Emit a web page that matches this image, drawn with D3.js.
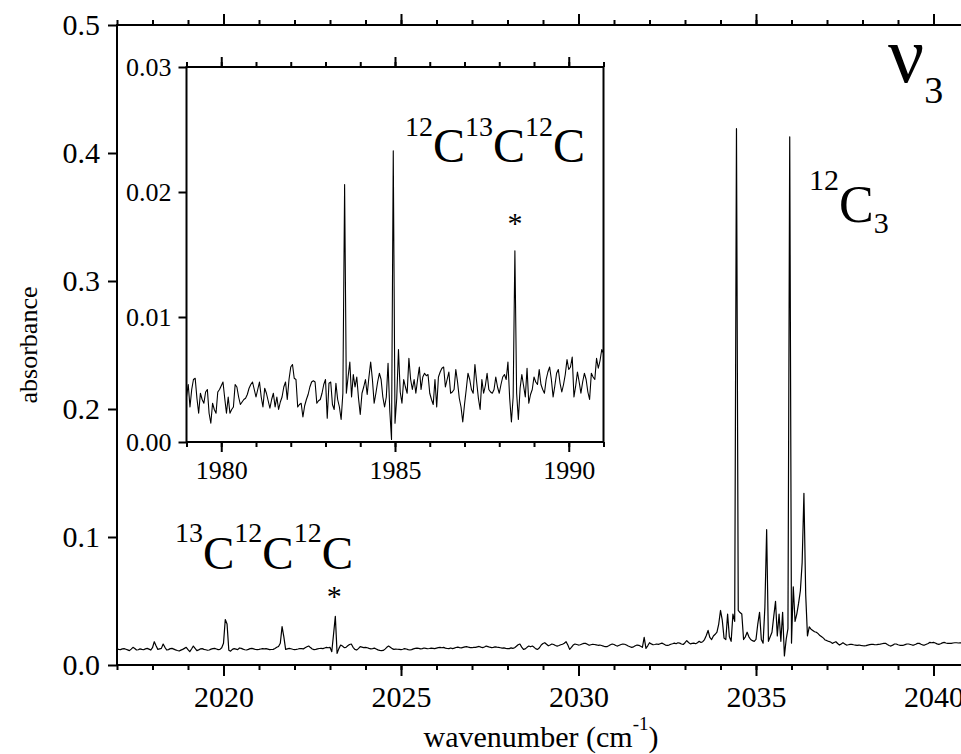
<!DOCTYPE html>
<html>
<head>
<meta charset="utf-8">
<script src="https://cdn.jsdelivr.net/npm/d3@7"></script>
<style>
  html, body { margin: 0; padding: 0; background: #fff; }
  svg { display: block; }
  text { font-family: "Liberation Serif", "Times New Roman", serif; fill: #000; }
</style>
</head>
<body>
<svg id="chart" width="961" height="754"></svg>
<script>
// ---- spectrum data (absorbance in milli-units, uniform wavenumber grid) ----
const mainStart = 2017;   // cm-1
const mainStep = 0.05;    // cm-1
const mainAbsorbanceMilli = [
  12.5,12.2,12.0,12.6,12.8,12.3,11.8,11.2,12.4,13.8,12.9,11.7,11.9,12.6,12.2,11.9,12.6,13.0,12.4,11.7,
  13.5,18.2,15.0,12.2,12.6,13.0,16.4,13.8,11.7,12.0,12.8,13.0,12.4,11.8,11.3,10.9,11.6,12.2,13.0,13.8,
  12.0,10.4,12.5,14.8,13.0,11.2,11.8,12.6,12.8,12.2,11.9,11.5,11.7,12.4,12.8,13.0,12.5,12.0,12.2,13.5,
  17.0,35.5,32.0,11.5,10.8,12.2,12.8,12.4,12.0,13.3,13.0,12.4,11.9,11.7,12.2,12.8,13.0,12.6,12.1,12.0,
  12.2,12.5,12.8,12.6,12.8,12.4,12.0,12.1,12.2,12.9,13.8,14.5,17.0,30.0,22.0,12.2,12.6,13.0,12.7,12.3,
  12.0,12.2,12.5,12.9,12.8,12.6,13.4,14.2,14.8,13.6,12.5,12.0,12.2,12.6,12.9,13.0,12.8,13.3,13.8,13.5,
  13.8,10.4,24.0,38.0,9.1,12.8,15.6,14.8,13.6,13.8,15.0,16.0,16.4,13.8,12.2,11.7,12.8,14.3,14.0,13.6,
  13.8,13.5,13.0,12.6,12.8,13.2,12.5,11.8,11.4,11.2,11.4,12.4,13.8,14.8,13.9,12.8,12.2,12.4,12.3,12.2,
  12.0,12.3,12.8,12.5,12.0,11.7,12.0,12.6,13.0,13.2,13.0,12.6,12.8,13.3,13.0,12.7,12.9,13.2,13.0,12.8,
  13.2,13.6,13.8,13.5,13.8,13.2,12.9,12.8,13.3,12.8,13.2,13.7,14.0,13.6,13.4,13.8,14.2,14.3,13.9,13.6,
  13.5,13.8,13.8,14.2,14.5,14.0,13.6,14.1,14.8,14.4,13.9,13.6,13.8,14.2,13.9,13.8,13.5,13.2,13.4,13.0,
  12.8,12.8,13.4,13.0,13.5,14.6,15.8,16.4,14.0,12.2,12.6,13.8,14.8,14.2,14.8,13.8,12.6,12.2,13.5,15.6,
  16.8,17.4,16.2,15.0,15.6,16.4,16.0,15.2,14.8,15.2,15.8,16.2,17.0,18.2,15.6,12.2,13.8,15.6,16.4,16.0,
  15.6,15.8,16.4,16.9,16.9,16.2,15.4,15.8,16.2,16.0,15.7,15.4,15.6,15.2,14.8,14.3,14.3,15.0,15.8,16.4,
  16.0,15.2,14.8,15.4,16.0,16.4,16.2,15.6,14.8,14.3,13.8,14.2,15.0,15.6,15.4,14.6,13.8,21.6,13.0,15.0,
  17.4,16.5,15.8,16.0,16.4,16.1,16.6,17.1,16.4,15.6,15.4,15.6,16.2,16.6,17.1,16.6,17.4,17.1,16.4,16.0,
  17.4,19.0,17.6,16.5,16.9,17.1,16.6,17.4,18.5,17.6,18.2,19.9,23.0,27.0,21.5,19.9,22.7,24.0,25.6,32.0,
  42.6,35.0,21.0,19.9,39.8,22.0,18.5,39.8,34.1,419.0,42.6,41.0,39.8,19.9,22.0,25.6,22.0,19.9,19.0,18.5,
  20.0,32.0,41.2,19.9,17.1,45.0,105.7,18.5,22.0,25.6,38.0,49.7,22.7,39.8,18.5,41.2,7.1,20.0,28.4,412.6,
  17.1,61.1,34.1,40.0,48.3,58.0,80.0,134.1,55.0,22.7,29.8,28.0,27.0,26.0,25.6,24.5,23.0,22.0,21.0,19.5,
  19.0,18.4,18.0,16.9,17.6,18.2,16.8,15.6,16.5,17.4,16.5,15.6,15.8,16.1,16.1,15.8,15.6,15.4,15.6,15.3,
  15.1,15.0,15.1,15.5,15.9,16.1,16.1,15.8,15.9,16.1,16.3,16.6,16.9,16.9,16.0,15.2,14.8,15.5,16.4,16.4,
  15.8,15.4,15.4,15.4,15.9,16.4,16.4,16.0,15.6,15.6,16.2,16.9,16.9,16.2,15.6,15.6,16.2,16.8,17.7,17.4,
  17.7,17.2,16.5,16.1,16.6,17.3,17.7,17.2,16.9,16.9,16.9,17.2,17.4,17.4,17.2,17.4,17.2,17.0,17.2,17.4,
  17.2
];

const insetStart = 1979;  // cm-1
const insetStep = 0.05;   // cm-1
const insetAbsorbanceMilli = [
  3.6,4.6,2.8,4.2,5.0,5.1,3.5,2.3,3.9,3.4,3.1,4.0,4.2,2.3,1.5,3.1,2.6,2.3,4.0,4.2,
  4.5,4.8,3.5,2.3,3.6,2.3,2.6,2.8,4.6,4.4,3.6,3.0,3.2,3.4,3.5,3.8,4.3,4.6,4.8,4.2,
  3.6,4.2,4.8,3.6,2.8,4.3,3.9,3.3,2.7,3.4,3.9,2.8,3.6,2.6,3.2,3.6,4.4,4.8,3.4,5.0,
  6.0,6.2,5.1,5.0,2.8,3.0,3.1,2.0,2.9,3.4,3.8,4.4,4.8,4.9,4.8,3.1,3.3,3.4,3.9,4.6,
  5.0,1.9,4.7,4.8,3.0,2.6,4.7,3.4,2.8,1.8,3.9,20.6,3.9,5.2,6.4,3.6,5.4,4.4,5.2,3.5,
  2.2,3.9,4.4,5.0,3.8,5.2,6.4,5.0,3.1,3.9,4.8,5.5,5.0,3.6,2.8,3.6,6.3,2.5,0.2,23.3,
  1.5,3.5,7.4,4.0,3.1,5.0,4.4,3.9,6.7,5.0,4.2,5.0,3.9,5.0,6.0,4.2,5.2,5.5,5.3,5.4,
  3.9,3.4,3.0,5.0,2.8,5.2,5.6,5.9,6.0,4.4,5.0,5.6,3.9,4.0,4.2,5.8,4.8,3.5,2.8,1.6,
  3.0,4.2,5.5,5.0,4.2,3.9,6.2,4.8,3.5,2.6,5.0,3.9,4.5,5.5,4.2,4.0,3.9,4.2,5.2,4.4,
  3.9,4.6,5.2,5.4,5.0,6.4,3.5,1.6,3.6,15.3,3.9,1.8,4.3,5.4,4.5,3.6,5.9,3.1,3.8,4.2,
  5.2,4.8,4.6,5.8,4.6,4.2,3.9,5.0,5.6,6.0,5.0,3.6,4.5,5.5,5.8,4.7,4.0,4.6,5.4,6.6,
  5.8,6.0,6.8,3.6,4.5,5.6,4.8,3.9,4.8,5.5,5.0,4.0,3.4,5.5,5.2,5.0,6.7,5.9,6.5,7.4,
  7.1
];

// axis ranges and tick labels
const mainXDomain = [2017, 2041];
const mainYDomain = [0, 0.5];
const insetXDomain = [1979, 1991];
const insetYDomain = [0, 0.03];
const mainXTicks = [2020, 2025, 2030, 2035, 2040];
const mainYTicks = [0, 0.1, 0.2, 0.3, 0.4, 0.5];
const insetXTicks = [1980, 1985, 1990];
const insetYTicks = [0, 0.01, 0.02, 0.03];

// peaks marked with an asterisk (cm-1, absorbance at the peak top)
const starredMain = { w: 2023.15, a: 0.038 };
const starredInset = { w: 1988.45, a: 0.0153 };

// ---- layout ----
const svg = d3.select("#chart");
const mainBox = { left: 117, right: 969, top: 25, bottom: 665 };
const insetBox = { left: 186.5, right: 603.5, top: 67, bottom: 442 };
const AXIS_W = 2;
const SERIF = '"Liberation Serif", "Times New Roman", serif';

const x = d3.scaleLinear().domain(mainXDomain).range([mainBox.left, mainBox.right]);
const y = d3.scaleLinear().domain(mainYDomain).range([mainBox.bottom, mainBox.top]);
const xi = d3.scaleLinear().domain(insetXDomain).range([insetBox.left, insetBox.right]);
const yi = d3.scaleLinear().domain(insetYDomain).range([insetBox.bottom, insetBox.top]);

const toPoints = (start, step, vals) => vals.map((v, i) => ({ w: start + i * step, a: v / 1000 }));
const mainPts = toPoints(mainStart, mainStep, mainAbsorbanceMilli);
const insetPts = toPoints(insetStart, insetStep, insetAbsorbanceMilli);

const defs = svg.append("defs");
defs.append("clipPath").attr("id", "clipMain").append("rect")
  .attr("x", mainBox.left).attr("y", mainBox.top)
  .attr("width", mainBox.right - mainBox.left).attr("height", mainBox.bottom - mainBox.top);
defs.append("clipPath").attr("id", "clipInset").append("rect")
  .attr("x", insetBox.left).attr("y", insetBox.top)
  .attr("width", insetBox.right - insetBox.left).attr("height", insetBox.bottom - insetBox.top);

// ---- main spectrum ----
svg.append("path")
  .datum(mainPts)
  .attr("clip-path", "url(#clipMain)")
  .attr("fill", "none").attr("stroke", "#000").attr("stroke-width", 1.2)
  .attr("stroke-linejoin", "round")
  .attr("d", d3.line().x(d => x(d.w)).y(d => y(d.a)));

// ---- inset panel ----
svg.append("rect")
  .attr("x", insetBox.left).attr("y", insetBox.top)
  .attr("width", insetBox.right - insetBox.left).attr("height", insetBox.bottom - insetBox.top)
  .attr("fill", "#fff");

svg.append("path")
  .datum(insetPts)
  .attr("clip-path", "url(#clipInset)")
  .attr("fill", "none").attr("stroke", "#000").attr("stroke-width", 1.1)
  .attr("stroke-linejoin", "round")
  .attr("d", d3.line().x(d => xi(d.w)).y(d => yi(d.a)));

// ---- axes ----
function tidy(g, fontSize) {
  g.attr("font-family", SERIF);
  g.select(".domain").remove();
  g.selectAll(".tick line").attr("stroke", "#000").attr("stroke-width", AXIS_W);
  g.selectAll(".tick text").attr("font-size", fontSize).attr("fill", "#000")
    .attr("font-family", SERIF);
}
const noLabel = () => "";

// main: bottom
svg.append("g").attr("transform", `translate(0,${mainBox.bottom})`)
  .call(d3.axisBottom(x).tickValues(d3.range(2017, 2042)).tickSize(5).tickFormat(noLabel))
  .call(g => tidy(g, 30));
svg.append("g").attr("transform", `translate(0,${mainBox.bottom})`)
  .call(d3.axisBottom(x).tickValues(mainXTicks).tickSize(11).tickPadding(10).tickFormat(d3.format("d")))
  .call(g => tidy(g, 30));
// main: top
svg.append("g").attr("transform", `translate(0,${mainBox.top})`)
  .call(d3.axisTop(x).tickValues(d3.range(2017, 2042)).tickSize(5).tickFormat(noLabel))
  .call(g => tidy(g, 30));
svg.append("g").attr("transform", `translate(0,${mainBox.top})`)
  .call(d3.axisTop(x).tickValues(mainXTicks).tickSize(11).tickFormat(noLabel))
  .call(g => tidy(g, 30));
// main: left
svg.append("g").attr("transform", `translate(${mainBox.left},0)`)
  .call(d3.axisLeft(y).tickValues(mainYTicks).tickSize(9).tickPadding(8).tickFormat(d3.format(".1f")))
  .call(g => tidy(g, 30));

// main frame lines
svg.append("line").attr("x1", mainBox.left).attr("x2", mainBox.left)
  .attr("y1", mainBox.top - 1).attr("y2", mainBox.bottom + 1)
  .attr("stroke", "#000").attr("stroke-width", AXIS_W);
svg.append("line").attr("x1", mainBox.left - 1).attr("x2", 961)
  .attr("y1", mainBox.bottom).attr("y2", mainBox.bottom)
  .attr("stroke", "#000").attr("stroke-width", AXIS_W);
svg.append("line").attr("x1", mainBox.left - 1).attr("x2", 961)
  .attr("y1", mainBox.top).attr("y2", mainBox.top)
  .attr("stroke", "#000").attr("stroke-width", AXIS_W);

// inset: bottom
svg.append("g").attr("transform", `translate(0,${insetBox.bottom})`)
  .call(d3.axisBottom(xi).tickValues(d3.range(1979, 1992)).tickSize(5).tickFormat(noLabel))
  .call(g => tidy(g, 26));
svg.append("g").attr("transform", `translate(0,${insetBox.bottom})`)
  .call(d3.axisBottom(xi).tickValues(insetXTicks).tickSize(10).tickPadding(9).tickFormat(d3.format("d")))
  .call(g => tidy(g, 26));
// inset: top
svg.append("g").attr("transform", `translate(0,${insetBox.top})`)
  .call(d3.axisTop(xi).tickValues(d3.range(1979, 1992)).tickSize(5).tickFormat(noLabel))
  .call(g => tidy(g, 26));
svg.append("g").attr("transform", `translate(0,${insetBox.top})`)
  .call(d3.axisTop(xi).tickValues(insetXTicks).tickSize(10).tickFormat(noLabel))
  .call(g => tidy(g, 26));
// inset: left
svg.append("g").attr("transform", `translate(${insetBox.left},0)`)
  .call(d3.axisLeft(yi).tickValues(insetYTicks).tickSize(8).tickPadding(7).tickFormat(d3.format(".2f")))
  .call(g => tidy(g, 26));

// inset frame
svg.append("rect")
  .attr("x", insetBox.left).attr("y", insetBox.top)
  .attr("width", insetBox.right - insetBox.left).attr("height", insetBox.bottom - insetBox.top)
  .attr("fill", "none").attr("stroke", "#000").attr("stroke-width", AXIS_W);

// ---- axis titles ----
const xTitle = svg.append("text")
  .attr("x", 541).attr("y", 747).attr("text-anchor", "middle").attr("font-size", 30);
xTitle.append("tspan").text("wavenumber (cm");
xTitle.append("tspan").attr("font-size", 19).attr("dy", -17).text("-1");
xTitle.append("tspan").attr("dy", 17).text(")");

svg.append("text")
  .attr("transform", "translate(37,345) rotate(-90)")
  .attr("text-anchor", "middle").attr("font-size", 26)
  .text("absorbance");

// ---- annotations ----
function richLabel(x0, pieces) {
  const t = svg.append("text").attr("x", x0);
  pieces.forEach(([s, size, base]) => {
    t.append("tspan").attr("y", base).attr("font-size", size).text(s);
  });
  return t;
}

richLabel(175, [["13", 28, 542], ["C", 47, 569], ["12", 28, 542], ["C", 47, 569], ["12", 28, 542], ["C", 47, 569]]);
richLabel(405, [["12", 28, 136], ["C", 48, 162], ["13", 28, 136], ["C", 48, 162], ["12", 28, 136], ["C", 48, 162]]);
richLabel(809, [["12", 30, 190], ["C", 52, 222], ["3", 30, 233]]);
richLabel(888, [["ν", 80, 82], ["3", 38, 103]]);

svg.append("text")
  .attr("x", x(starredMain.w) - 1).attr("y", y(starredMain.a) - 10)
  .attr("text-anchor", "middle").attr("font-size", 30).text("*");
svg.append("text")
  .attr("x", xi(starredInset.w)).attr("y", yi(starredInset.a) - 18)
  .attr("text-anchor", "middle").attr("font-size", 30).text("*");
</script>
</body>
</html>
